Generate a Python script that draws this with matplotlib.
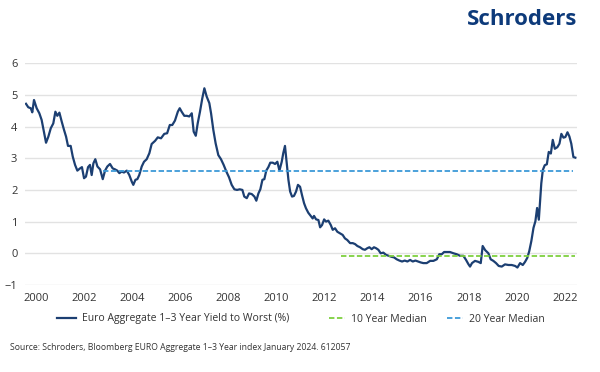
import matplotlib
matplotlib.use("Agg")
import matplotlib.pyplot as plt

period = [0.5, 1.7, 3.0, 3.8, 4.7, 6.1, 7.5, 8.7, 9.9, 11.0, 12.2, 13.5, 14.8, 15.9, 16.9, 18.0,
          19.2, 20.4, 21.5, 22.5, 23.9, 25.0, 26.2, 27.4, 28.8, 29.8, 30.9, 31.9, 33.0, 34.0,
          34.9, 35.8, 36.8, 37.9, 39.3, 40.7, 41.9, 43.1, 44.5, 45.9, 47.1, 48.3, 49.4, 50.6,
          51.8, 53.3, 54.6, 55.9, 56.7, 57.8, 58.8, 59.8, 61.1, 62.3, 63.7, 65.1, 66.3, 68.1,
          69.5, 71.2, 72.9, 74.4, 75.8, 77.1, 78.5, 80.0, 81.0, 82.0, 83.4, 84.7, 86.0, 87.3,
          88.3, 89.4, 90.4, 91.6, 92.8, 93.9, 95.1, 96.5, 97.4, 98.6, 99.8, 101.2, 102.6, 104.0,
          105.4, 106.8, 108.2, 109.6, 111.0, 112.4, 113.8, 114.8, 116.1, 117.3, 118.7, 120.1,
          121.1, 122.2, 123.2, 124.3, 125.3, 126.3, 127.4, 128.4, 129.7, 130.9, 132.1, 133.2,
          134.4, 135.2, 136.1, 137.0, 137.9, 138.8, 139.8, 140.8, 141.9, 142.9, 144.0, 145.0,
          146.1, 147.1, 148.3, 149.6, 150.6, 151.3, 152.4, 153.6, 154.5, 155.5, 156.6, 157.6,
          158.8, 160.1, 161.1, 162.3, 163.5, 164.9, 166.3, 167.5, 168.7, 170.2, 171.6, 172.8,
          174.0, 175.4, 176.8, 178.0, 179.2, 180.3, 181.5, 182.7, 183.8, 185.0, 186.2, 187.6,
          189.0, 190.4, 191.8, 193.2, 194.6, 196.0, 197.4, 198.8, 200.2, 201.6, 203.0, 204.4,
          205.8, 207.2, 208.5, 210.3, 212.1, 213.8, 215.6, 216.9, 218.2, 219.4, 220.8, 222.5,
          224.3, 226.0, 227.8, 229.5, 230.9, 232.1, 233.0, 234.0, 235.6, 237.3, 238.6, 239.6,
          240.9, 242.6, 243.8, 245.2, 246.6, 248.0, 249.6, 251.3, 253.1, 254.8, 256.6, 257.8,
          259.2, 260.6, 261.8, 263.0, 264.0, 265.1, 266.2, 267.2, 268.1, 269.0, 269.7, 270.3,
          271.1, 272.1, 273.2, 274.2, 275.3, 276.3, 277.4, 278.7, 279.8, 280.8, 281.9, 282.9,
          284.0, 285.0, 286.0, 287.1, 288.1]

yield_pct = [4.72, 4.61, 4.58, 4.45, 4.84, 4.58, 4.42, 4.21, 3.84, 3.49, 3.68, 3.95, 4.10, 4.47,
             4.34, 4.44, 4.16, 3.90, 3.68, 3.39, 3.39, 3.05, 2.79, 2.61, 2.68, 2.72, 2.37, 2.42,
             2.72, 2.79, 2.47, 2.84, 2.97, 2.74, 2.65, 2.34, 2.61, 2.74, 2.82, 2.68, 2.65, 2.61,
             2.53, 2.58, 2.55, 2.61, 2.47, 2.26, 2.16, 2.32, 2.34, 2.47, 2.74, 2.89, 2.97, 3.16,
             3.45, 3.55, 3.66, 3.63, 3.77, 3.79, 4.05, 4.05, 4.19, 4.47, 4.58, 4.47, 4.34, 4.34,
             4.32, 4.42, 3.84, 3.71, 4.10, 4.47, 4.89, 5.21, 4.95, 4.74, 4.42, 3.89, 3.47, 3.10,
             2.97, 2.79, 2.58, 2.40, 2.16, 2.02, 2.00, 2.02, 2.00, 1.79, 1.74, 1.89, 1.87, 1.79,
             1.66, 1.89, 2.02, 2.32, 2.34, 2.61, 2.72, 2.86, 2.86, 2.82, 2.89, 2.61, 2.89, 3.16,
             3.39, 2.84, 2.32, 1.95, 1.79, 1.81, 1.95, 2.16, 2.10, 1.84, 1.58, 1.42, 1.28, 1.18,
             1.10, 1.18, 1.07, 1.05, 0.82, 0.89, 1.07, 1.00, 1.03, 0.89, 0.74, 0.79, 0.68, 0.63,
             0.58, 0.47, 0.42, 0.32, 0.32, 0.29, 0.23, 0.19, 0.13, 0.11, 0.16, 0.19, 0.13, 0.19,
             0.16, 0.11, 0.00, 0.02, -0.05, -0.08, -0.11, -0.13, -0.19, -0.23, -0.26, -0.23,
             -0.26, -0.21, -0.26, -0.23, -0.26, -0.29, -0.31, -0.31, -0.24, -0.24, -0.19, -0.03,
             -0.03, 0.04, 0.04, 0.04, 0.00, -0.03, -0.08, -0.08, -0.21, -0.34, -0.42, -0.31,
             -0.24, -0.27, -0.31, 0.23, 0.10, 0.00, -0.19, -0.24, -0.31, -0.40, -0.42, -0.35,
             -0.37, -0.37, -0.40, -0.45, -0.31, -0.37, -0.27, -0.14, 0.07, 0.39, 0.80, 1.01,
             1.43, 1.06, 1.69, 2.21, 2.63, 2.78, 2.81, 3.20, 3.15, 3.58, 3.30, 3.35, 3.46, 3.77,
             3.65, 3.67, 3.82, 3.69, 3.46, 3.04, 3.02]

median_10y = -0.08
median_10y_span = (165.5, 288.0)
median_20y = 2.6
median_20y_span = (40.8, 287.0)

tick_pos = [5.6, 30.8, 56.0, 81.2, 106.4, 131.6, 156.7, 181.9, 207.1, 232.3, 257.5, 282.7]
tick_labels = ["2000", "2002", "2004", "2006", "2008", "2010", "2012", "2014", "2016",
               "2018", "2020", "2022"]

plt.rcParams["font.family"] = ["Open Sans", "DejaVu Sans"]

fig = plt.figure(figsize=(6, 3.72), dpi=100)
ax = fig.add_axes([0.0417, 0.234, 0.92, 0.596])

l1, = ax.plot(period, yield_pct, color="#1c3f72", lw=1.6)
l2, = ax.plot(median_10y_span, [median_10y] * 2, color="#7ed03f", lw=1.3, ls=(0, (3, 1.4)))
l3, = ax.plot(median_20y_span, [median_20y] * 2, color="#3d9ad8", lw=1.3, ls=(0, (3, 1.4)))

ax.set_xlim(0, 289)
ax.set_ylim(-1, 6)
ax.set_yticks(range(-1, 7))
ax.set_xticks(tick_pos)
ax.set_xticklabels(tick_labels)
ax.grid(axis="y", color="#e2e2e2", lw=1)
ax.set_axisbelow(True)
for s in ax.spines.values():
    s.set_visible(False)
ax.tick_params(length=0, labelsize=8, colors="#333333", pad=5.5)

# one legend per entry, placed like the original
entries = [(l1, "Euro Aggregate 1\u20133 Year Yield to Worst (%)", 57, 1.8),
           (l2, "10 Year Median", 329, 1.55),
           (l3, "20 Year Median", 447, 1.55)]
for handle, text, xpix, hlen in entries:
    leg = fig.legend([handle], [text], loc="center left", bbox_to_anchor=(xpix / 600, 1 - 319 / 372),
                     frameon=False, fontsize=7.5, handlelength=hlen, handletextpad=0.6,
                     borderpad=0, borderaxespad=0, labelcolor="#333333")

fig.text(0.017, 1 - 348 / 372, "Source: Schroders, Bloomberg EURO Aggregate 1\u20133 Year index January 2024. 612057",
         fontsize=6.2, color="#333333", va="center")
fig.text(0.962, 0.948, "Schroders", fontsize=16, fontweight="bold", color="#0d3a7a",
         ha="right", va="center")

fig.savefig("out.png", dpi=100)
